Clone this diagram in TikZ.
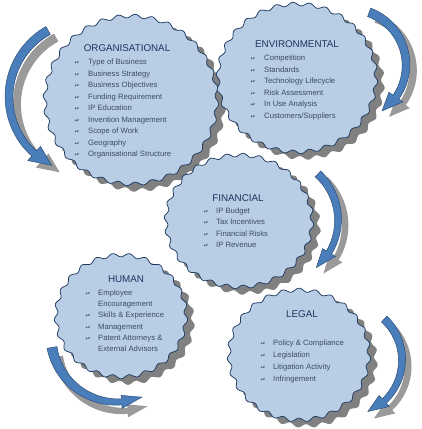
\documentclass[tikz,border=0pt]{standalone}
\usepackage{fontspec}
\setmainfont{Liberation Sans}
\newfontfamily\symfont{DejaVu Sans}
\definecolor{sealfill}{HTML}{B9CDE5}
\definecolor{sealedge}{HTML}{1F3A60}
\definecolor{shade}{HTML}{808080}
\definecolor{arrowfill}{HTML}{4A7EBB}
\definecolor{arrowedge}{HTML}{2C4D75}
\definecolor{arrowshade}{HTML}{9A9A9A}
\definecolor{headc}{HTML}{1B3560}
\definecolor{itemc}{HTML}{3B4A68}
\newcommand\sealshape[7]{%
  \path[#1] plot[domain=0:360, samples=541, variable=\t]
    ({#2+(#4+#7*sin(#6*\t))*cos(\t)}, {#3+(#5+#7*sin(#6*\t))*sin(\t)}) -- cycle;}
\newcommand\sealpair[6]{%
  \sealshape{sealshadow}{#1+7}{#2+6}{#3}{#4}{#5}{#6}%
  \sealshape{seal}{#1}{#2}{#3}{#4}{#5}{#6}}
\newcommand\bentarrow[9]{%
  \path[arrowbody] plot[domain=#4:#5, samples=50, variable=\t]
    ({#1+(#3+(#7+(#8-(#7))*(\t-(#4))/((#5)-(#4)))/2)*cos(\t)},
     {#2+(#3+(#7+(#8-(#7))*(\t-(#4))/((#5)-(#4)))/2)*sin(\t)})
    -- ({#1+(#3+#9/2)*cos(#5)}, {#2+(#3+#9/2)*sin(#5)})
    -- ({#1+#3*cos(#6)}, {#2+#3*sin(#6)})
    -- ({#1+(#3-#9/2)*cos(#5)}, {#2+(#3-#9/2)*sin(#5)})
    -- plot[domain=#5:#4, samples=50, variable=\t]
    ({#1+(#3-(#7+(#8-(#7))*(\t-(#4))/((#5)-(#4)))/2)*cos(\t)},
     {#2+(#3-(#7+(#8-(#7))*(\t-(#4))/((#5)-(#4)))/2)*sin(\t)})
    -- cycle;}
\newcommand\itl[5]{%
  \node[bul] (#1b) at (#2,#4) {↫};
  \node[itm] (#1) at (#3,#4) {#5};}
\newcommand\itc[4]{%
  \node[itm] (#1) at (#2,#3) {#4};}
\tikzset{
  seal/.style={fill=sealfill, draw=sealedge, line width=0.75pt},
  sealshadow/.style={fill=shade},
  arrowbody/.style={fill=arrowfill, draw=arrowedge, line width=0.5pt},
  head/.style={text=headc, font=\fontsize{9.8}{11}\selectfont, anchor=base, inner sep=0pt},
  itm/.style={text=itemc, font=\fontsize{7.7}{9}\selectfont, anchor=base west, inner sep=0pt},
  bul/.style={text=itemc, font=\symfont\fontsize{5.5}{6}\selectfont, anchor=base, inner sep=0pt},
}
\begin{document}
\begin{tikzpicture}[x=1pt,y=-1pt]
\useasboundingbox (0,0) rectangle (422,429);
% seals
\sealpair{131}{100}{86}{84}{32}{1.8}
\sealpair{297}{78}{79}{74}{30}{1.8}
\sealpair{121}{316}{65}{61}{25}{1.8}
\sealpair{299}{355}{70}{65}{27}{1.8}
\sealpair{239}{221}{73}{66}{28}{1.8}
% arrow shadows
\begin{scope}[arrowbody/.style={fill=arrowshade}]
  \begin{scope}[shift={(8,7)}]\bentarrow{85}{97}{76}{241}{132}{116}{9}{7}{19}\end{scope}
  \begin{scope}[shift={(7,6)}]\bentarrow{350}{65}{56}{-70}{35}{55}{9}{7}{17}\end{scope}
  \begin{scope}[shift={(7,6)}]\bentarrow{275}{220}{63}{-47}{31}{49}{8}{6}{15}\end{scope}
  \begin{scope}[shift={(6,9)}]\bentarrow{117}{336}{66}{170}{86}{68}{10}{6}{13}\end{scope}
  \begin{scope}[shift={(6,7)}]\bentarrow{346}{360}{56}{-47}{47}{67}{8}{6}{15}\end{scope}
\end{scope}
% arrows
\bentarrow{85}{97}{76}{241}{132}{116}{9}{7}{19}
\bentarrow{350}{65}{56}{-70}{35}{55}{9}{7}{17}
\bentarrow{275}{220}{63}{-47}{31}{49}{8}{6}{15}
\bentarrow{117}{336}{66}{170}{86}{68}{10}{6}{13}
\bentarrow{346}{360}{56}{-47}{47}{67}{8}{6}{15}
% headings
\node[head] (horg) at (127,51.5) {ORGANISATIONAL};
\node[head] (henv) at (297,47.5) {ENVIRONMENTAL};
\node[head] (hfin) at (238,201.5) {FINANCIAL};
\node[head] (hhum) at (126,282.5) {HUMAN};
\node[head] (hleg) at (302,317.5) {LEGAL};
% organisational items
\itl{o1}{77}{88}{64.5}{Type of Business}
\itl{o2}{77}{88}{76}{Business Strategy}
\itl{o3}{77}{88}{87.5}{Business Objectives}
\itl{o4}{77}{88}{99}{Funding Requirement}
\itl{o5}{77}{88}{110.5}{IP Education}
\itl{o6}{77}{88}{122}{Invention Management}
\itl{o7}{77}{88}{133.5}{Scope of Work}
\itl{o8}{77}{88}{145}{Geography}
\itl{o9}{77}{88}{156.5}{Organisational Structure}
% environmental items
\itl{e1}{253}{264}{60.5}{Competition}
\itl{e2}{253}{264}{72.1}{Standards}
\itl{e3}{253}{264}{83.7}{Technology Lifecycle}
\itl{e4}{253}{264}{95.3}{Risk Assessment}
\itl{e5}{253}{264}{106.9}{In Use Analysis}
\itl{e6}{253}{264}{118.5}{Customers/Suppliers}
% financial items
\itl{f1}{206}{216}{213.5}{IP Budget}
\itl{f2}{206}{216}{224.8}{Tax Incentives}
\itl{f3}{206}{216}{236.1}{Financial Risks}
\itl{f4}{206}{216}{247.4}{IP Revenue}
% human items
\itl{h1}{88}{98}{295.5}{Employee}
\itc{h1c}{98}{306.7}{Encouragement}
\itl{h2}{88}{98}{317.9}{Skills \& Experience}
\itl{h3}{88}{98}{329.1}{Management}
\itl{h4}{88}{98}{340.3}{Patent Attorneys \&}
\itc{h4c}{98}{351.5}{External Advisors}
% legal items
\itl{l1}{263}{273}{345.5}{Policy \& Compliance}
\itl{l2}{263}{273}{357.5}{Legislation}
\itl{l3}{263}{273}{369.5}{Litigation Activity}
\itl{l4}{263}{273}{381.5}{Infringement}
\end{tikzpicture}
\end{document}
